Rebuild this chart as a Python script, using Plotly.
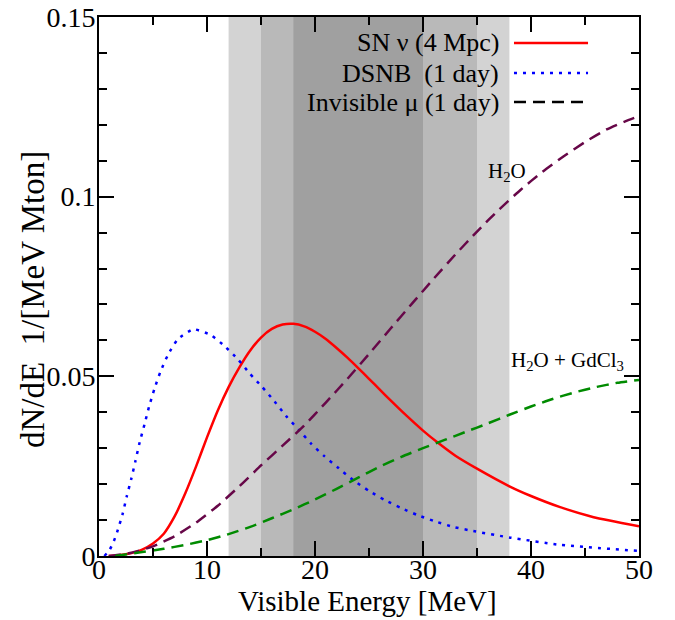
import plotly.graph_objects as go

# ---------------- data ----------------
sn_E = [0.9, 2.0, 3.0, 4.0, 5.0, 6.0, 7.0, 8.0, 9.0, 10.0, 11.0, 12.0, 13.0, 14.0,
        15.0, 16.0, 17.0, 18.0, 19.0, 20.0, 21.0, 22.0, 23.0, 24.0, 25.0, 26.0,
        27.0, 28.0, 29.0, 30.0, 31.3, 33.0, 35.0, 38.0, 40.0, 42.7, 45.8, 50.0]
sn_v = [0.0, 0.0003, 0.0008, 0.0018, 0.0035, 0.0062, 0.011, 0.0175, 0.025, 0.033,
        0.0405, 0.047, 0.0525, 0.0572, 0.0608, 0.0632, 0.0644, 0.0646, 0.0639, 0.0624,
        0.0604, 0.0579, 0.0552, 0.0523, 0.0493, 0.0463, 0.0433, 0.0404, 0.0376,
        0.0349, 0.0317, 0.0279, 0.0243, 0.0194, 0.0167, 0.0136, 0.0108, 0.0083]

dsnb_E = [0.5, 1.0, 1.37, 1.67, 2.17, 2.57, 3.0, 3.38, 3.77, 4.21, 4.63, 5.13, 5.69,
          6.39, 7.29, 8.74, 10.34, 11.64, 12.87, 13.98, 15.12, 16.26, 17.31, 18.51,
          19.66, 20.86, 22.2, 23.54, 24.96, 26.44, 27.95, 29.56, 31.16, 32.79, 34.39,
          38.1, 42.7, 50.0]
dsnb_v = [0.0, 0.0018, 0.0041, 0.0066, 0.0115, 0.0166, 0.0216, 0.0265, 0.0317, 0.0366,
          0.0415, 0.0465, 0.0513, 0.0560, 0.0603, 0.0631, 0.0615, 0.0584, 0.0547,
          0.0507, 0.0470, 0.0430, 0.0390, 0.0351, 0.0312, 0.0278, 0.0244, 0.0211,
          0.0182, 0.0156, 0.0134, 0.0113, 0.0096, 0.0081, 0.0071, 0.0051, 0.0031,
          0.0014]

h2o_E = [0.9, 3.0, 5.0, 7.0, 9.0, 11.0, 13.0, 15.0, 17.0, 19.0, 21.0, 23.0, 25.0,
         27.0, 29.0, 31.0, 33.0, 35.0, 37.0, 39.0, 41.0, 43.0, 45.0, 47.0, 49.0, 50.0]
h2o_v = [0.0, 0.0009, 0.0027, 0.0055, 0.0093, 0.014, 0.0194, 0.0252, 0.0307, 0.0363,
         0.0427, 0.0493, 0.0562, 0.0633, 0.0703, 0.0772, 0.0839, 0.0903, 0.0963,
         0.1018, 0.1068, 0.1112, 0.1152, 0.1187, 0.1213, 0.1224]

gd_E = [1.5, 4.0, 6.0, 8.0, 10.0, 12.0, 14.0, 16.0, 18.0, 20.0, 22.0, 24.0, 26.0,
        28.0, 30.0, 32.0, 34.0, 36.0, 38.0, 40.0, 42.0, 44.0, 46.0, 48.0, 50.0]
gd_v = [0.0, 0.0011, 0.002, 0.0031, 0.0044, 0.0061, 0.0081, 0.0105, 0.0130, 0.0157,
        0.0187, 0.0218, 0.0249, 0.0276, 0.0300, 0.0323, 0.0346, 0.0369, 0.0393,
        0.0416, 0.0437, 0.0455, 0.0470, 0.0482, 0.0490]

band_edges = [(12, 38), (15, 35), (18, 30)]   # nested shaded energy windows
band_colors = ["#d3d3d3", "#b9b9b9", "#a0a0a0"]

legend_labels = ["SN \u03bd (4 Mpc)", "DSNB  (1 day)", "Invisible \u03bc (1 day)"]

x_ticks = [0, 10, 20, 30, 40, 50]
y_ticks = [0, 0.05, 0.1, 0.15]
y_ticktext = ["0", "0.05", "0.1", "0.15"]

FONT = "Liberation Serif, Times New Roman, DejaVu Serif, serif"

fig = go.Figure()

RED = "#ff0000"
BLUE = "#0000ff"
PURPLE = "#670748"
GREEN = "#008b00"
DASH = "12px,7px"
DOT = "3px,6px"
SM = 0.5

fig.add_trace(go.Scatter(x=sn_E, y=sn_v, mode="lines", line=dict(color=RED, width=2.5, shape="spline", smoothing=SM)))
fig.add_trace(go.Scatter(x=dsnb_E, y=dsnb_v, mode="lines", line=dict(color=BLUE, width=2.5, dash=DOT, shape="spline", smoothing=SM)))
fig.add_trace(go.Scatter(x=h2o_E, y=h2o_v, mode="lines", line=dict(color=PURPLE, width=2.5, dash=DASH, shape="spline", smoothing=SM)))
fig.add_trace(go.Scatter(x=gd_E, y=gd_v, mode="lines", line=dict(color=GREEN, width=2.5, dash=DASH, shape="spline", smoothing=SM)))

shapes = []
for (a, b), c in zip(band_edges, band_colors):
    shapes.append(dict(type="rect", xref="x", yref="paper", x0=a, x1=b, y0=0, y1=1,
                       fillcolor=c, line=dict(width=0), layer="below"))

# custom legend (text on the left, line sample on the right)
leg_y = [0.9518, 0.8961, 0.8423]
leg_style = [dict(color="#ff0000", width=2.5),
             dict(color="#0000ff", width=2.5, dash=DOT),
             dict(color="black", width=2.5, dash=DASH)]
annotations = []
for lab, yy, st in zip(legend_labels, leg_y, leg_style):
    annotations.append(dict(xref="paper", yref="paper", x=0.745, y=yy, text=lab,
                            showarrow=False, xanchor="right", yanchor="middle",
                            font=dict(family=FONT, size=26, color="black")))
    shapes.append(dict(type="line", xref="paper", yref="paper", x0=0.7685, x1=0.9056,
                       y0=yy, y1=yy, line=st, layer="above"))

annotations.append(dict(x=37.8, y=0.107, text="H<sub>2</sub>O", showarrow=False,
                        font=dict(family=FONT, size=21, color="black")))
annotations.append(dict(x=43.4, y=0.0544, text="H<sub>2</sub>O + GdCl<sub>3</sub>",
                        showarrow=False, font=dict(family=FONT, size=21, color="black")))

# axis titles
annotations.append(dict(xref="paper", yref="paper", x=0.498, y=-0.083,
                        text="Visible Energy [MeV]", showarrow=False,
                        xanchor="center", yanchor="middle",
                        font=dict(family=FONT, size=29, color="black")))
annotations.append(dict(xref="paper", yref="paper", x=-0.122, y=0.475,
                        text="dN/dE  1/[MeV Mton]", showarrow=False, textangle=-90,
                        xanchor="center", yanchor="middle",
                        font=dict(family=FONT, size=33, color="black")))

axis_common = dict(showline=True, linecolor="black", linewidth=2, mirror="ticks",
                   ticks="inside", ticklen=15, tickwidth=1.5, tickcolor="black",
                   showgrid=False, zeroline=False, automargin=False,
                   ticklabeloverflow="allow",
                   tickfont=dict(family=FONT, size=28, color="black"))

fig.update_layout(
    width=675, height=620,
    margin=dict(l=99, r=36, t=17, b=64),
    paper_bgcolor="white", plot_bgcolor="white",
    showlegend=False,
    shapes=shapes, annotations=annotations,
    xaxis=dict(range=[0, 50], tickvals=x_ticks, ticklabelstandoff=-13,
               minor=dict(ticks="inside", ticklen=8, tickwidth=1.5, dtick=5, tick0=0, tickcolor="black"),
               **axis_common),
    yaxis=dict(range=[0, 0.15], tickvals=y_ticks, ticktext=y_ticktext, ticklabelstandoff=-4,
               minor=dict(ticks="inside", ticklen=8, tickwidth=1.5, dtick=0.01, tick0=0, tickcolor="black"),
               **axis_common),
)

# remove the browser's default 8 px page margin so the figure sits at the window corner
fig.write_html("out.html", config={"displayModeBar": False},
               post_script="document.body.style.margin='0';")
